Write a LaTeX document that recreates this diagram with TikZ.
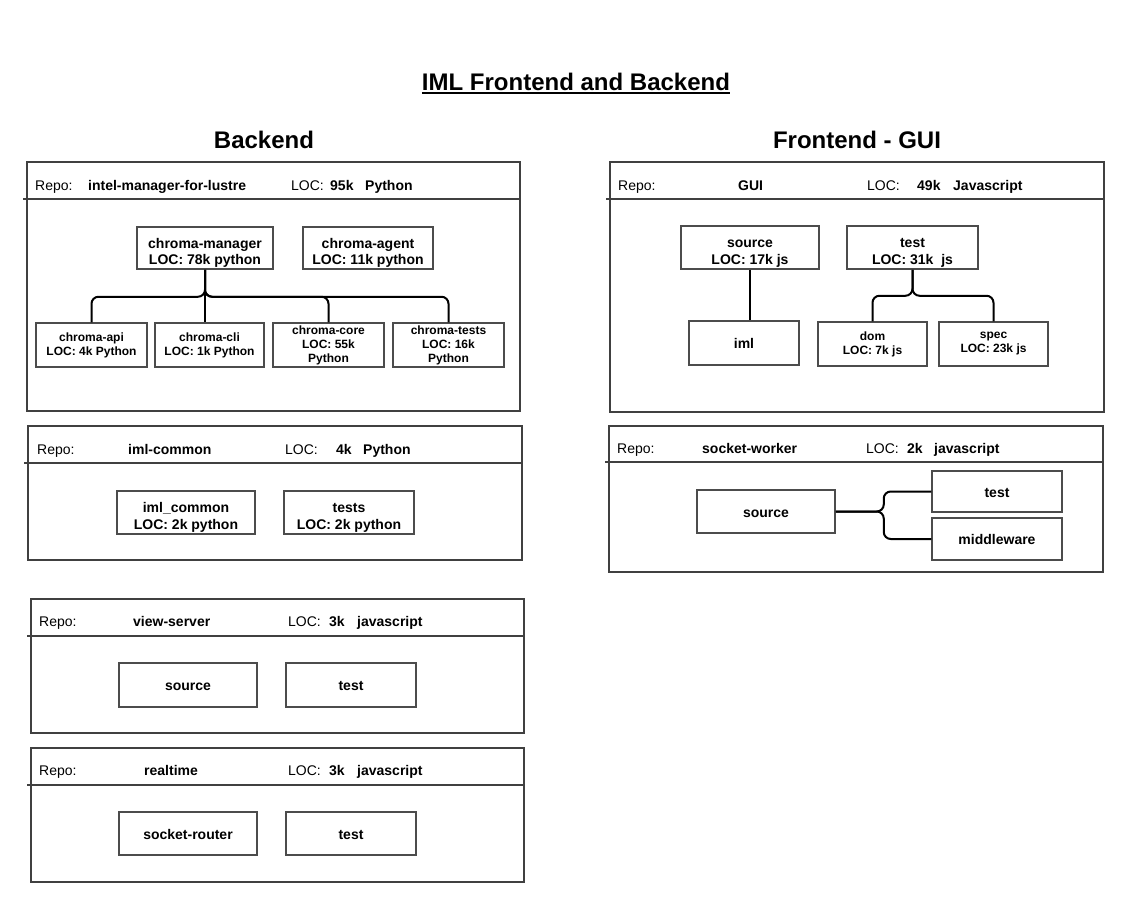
\documentclass[tikz,border=0pt]{standalone}
\usepackage{fontspec}
\setmainfont{Liberation Sans}
\newcommand{\tallrow}{\rule{0pt}{20pt}}

\tikzset{
  repoframe/.style={draw=black!75, line width=1.6pt},
  cell/.style={draw=black!70, line width=1.5pt, align=center, inner sep=0pt, minimum height=43pt},
  part/.style={cell, font=\bfseries\fontsize{14}{16.5}\selectfont,
    execute at begin node={\rule{0pt}{14pt}}, execute at end node={\rule[-3pt]{0pt}{3pt}}},
  smallpart/.style={cell, font=\bfseries\fontsize{12}{14}\selectfont},
  link/.style={draw=black, line width=2pt, rounded corners=7pt},
  hdr/.style={anchor=base west, inner sep=0pt, font=\fontsize{14}{16}\selectfont},
  hdrb/.style={hdr, font=\bfseries\fontsize{14}{16}\selectfont},
  heading/.style={anchor=base, inner sep=0pt, font=\bfseries\fontsize{24}{28}\selectfont},
}

\begin{document}
\begin{tikzpicture}[x=1pt, y=-1pt]
\useasboundingbox (0,0) rectangle (1127,902);

% titles
\node[heading] (title) at (576,90) {IML Frontend and Backend};
\draw[line width=1.8pt] ([yshift=-3pt]title.base west) -- ([yshift=-3pt]title.base east);
\node[heading] (backend) at (264,148) {Backend};
\node[heading] (frontend) at (857,148) {Frontend - GUI};

% repo frames
\draw[repoframe] (27,162) rectangle (520,411);
\draw[repoframe] (23,199) -- (520,199);
\draw[repoframe] (28,426) rectangle (522,560);
\draw[repoframe] (24,463) -- (522,463);
\draw[repoframe] (31,599) rectangle (524,733);
\draw[repoframe] (27,636) -- (524,636);
\draw[repoframe] (31,748) rectangle (524,882);
\draw[repoframe] (27,785) -- (524,785);
\draw[repoframe] (610,162) rectangle (1104,412);
\draw[repoframe] (606,199) -- (1104,199);
\draw[repoframe] (609,426) rectangle (1103,572);
\draw[repoframe] (605,462) -- (1103,462);

% intel-manager-for-lustre
\node[hdr]  (imlrepo) at (35,190) {Repo:};
\node[hdrb] (imlname) at (88,190) {intel-manager-for-lustre};
\node[hdr]  (imlloc)  at (291,190) {LOC:};
\node[hdrb] (imlnum)  at (330,190) {95k};
\node[hdrb] (imllang) at (365,190) {Python};
\node[part, minimum width=136pt, minimum height=42pt] (mgr) at (205,248) {\tallrow chroma-manager\\LOC: 78k python};
\node[part, minimum width=130pt, minimum height=42pt] (agent) at (368,248) {\tallrow chroma-agent\\LOC: 11k python};
\node[smallpart, minimum width=111pt, minimum height=44pt] (api) at (91.5,345) {chroma-api\\LOC: 4k Python};
\node[smallpart, minimum width=109pt, minimum height=44pt] (cli) at (209.5,345) {chroma-cli\\LOC: 1k Python};
\node[smallpart, minimum width=111pt, minimum height=44pt] (core) at (328.5,345) {chroma-core\\LOC: 55k\\Python};
\node[smallpart, minimum width=111pt, minimum height=44pt] (ctests) at (448.5,345) {chroma-tests\\LOC: 16k\\Python};
\draw[link] (mgr.south) -- ++(0,27) -| (api.north);
\draw[link] (mgr.south) -- (mgr.south |- cli.north);
\draw[link] (mgr.south) -- ++(0,27) -| (core.north);
\draw[link] (mgr.south) -- ++(0,27) -| (ctests.north);

% iml-common
\node[hdr]  (comrepo) at (37,454) {Repo:};
\node[hdrb] (comname) at (128,454) {iml-common};
\node[hdr]  (comloc)  at (285,454) {LOC:};
\node[hdrb] (comnum)  at (336,454) {4k};
\node[hdrb] (comlang) at (363,454) {Python};
\node[part, minimum width=138pt] (common) at (186,512.5) {\tallrow iml\_common\\LOC: 2k python};
\node[part, minimum width=130pt] (comtests) at (349,512.5) {\tallrow tests\\LOC: 2k python};

% view-server
\node[hdr]  (vsrepo) at (39,626) {Repo:};
\node[hdrb] (vsname) at (133,626) {view-server};
\node[hdr]  (vsloc)  at (288,626) {LOC:};
\node[hdrb] (vsnum)  at (329,626) {3k};
\node[hdrb] (vslang) at (357,626) {javascript};
\node[part, minimum width=138pt, minimum height=44pt] (vssrc) at (188,685) {source};
\node[part, minimum width=130pt, minimum height=44pt] (vstest) at (351,685) {test};

% realtime
\node[hdr]  (rtrepo) at (39,775) {Repo:};
\node[hdrb] (rtname) at (144,775) {realtime};
\node[hdr]  (rtloc)  at (288,775) {LOC:};
\node[hdrb] (rtnum)  at (329,775) {3k};
\node[hdrb] (rtlang) at (357,775) {javascript};
\node[part, minimum width=138pt] (router) at (188,833.5) {socket-router};
\node[part, minimum width=130pt] (rttest) at (351,833.5) {test};

% GUI
\node[hdr]  (guirepo) at (618,190) {Repo:};
\node[hdrb] (guiname) at (738,190) {GUI};
\node[hdr]  (guiloc)  at (867,190) {LOC:};
\node[hdrb] (guinum)  at (917,190) {49k};
\node[hdrb] (guilang) at (953,190) {Javascript};
\node[part, minimum width=138pt] (gsrc) at (750,247.5) {\tallrow source\\LOC: 17k js};
\node[part, minimum width=131pt] (gtest) at (912.5,247.5) {\tallrow test\\LOC: 31k\ \ js};
\node[part, minimum width=110pt, minimum height=44pt] (giml) at (744,343) {iml};
\node[smallpart, minimum width=109pt, minimum height=44pt] (gdom) at (872.5,344) {dom\\LOC: 7k js};
\node[smallpart, minimum width=109pt, minimum height=44pt] (gspec) at (993.5,344) {spec\\LOC: 23k js};
\draw[link] (gsrc.south) -- (gsrc.south |- giml.north);
\draw[link] (gtest.south) -- ++(0,26) -| (gdom.north);
\draw[link] (gtest.south) -- ++(0,26) -| (gspec.north);

% socket-worker
\node[hdr]  (swrepo) at (617,453) {Repo:};
\node[hdrb] (swname) at (702,453) {socket-worker};
\node[hdr]  (swloc)  at (866,453) {LOC:};
\node[hdrb] (swnum)  at (907,453) {2k};
\node[hdrb] (swlang) at (934,453) {javascript};
\node[part, minimum width=138pt] (swsrc) at (766,511.5) {source};
\node[part, minimum width=130pt, minimum height=41pt] (swtest) at (997,491.5) {test};
\node[part, minimum width=130pt, minimum height=42pt] (swmid) at (997,539) {middleware};
\draw[link] (swsrc.east) -- ++(48,0) |- (swtest.west);
\draw[link] (swsrc.east) -- ++(48,0) |- (swmid.west);
\end{tikzpicture}
\end{document}
